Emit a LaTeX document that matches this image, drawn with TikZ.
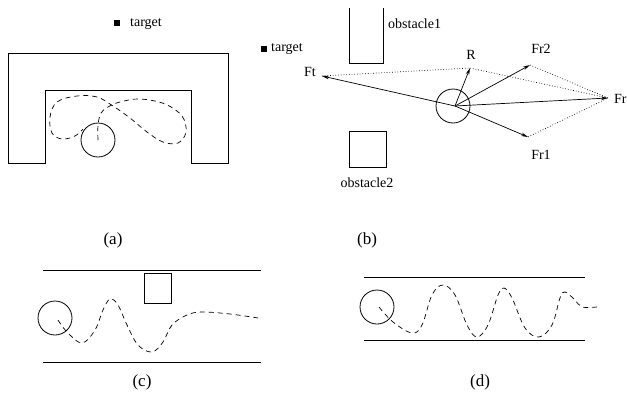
\documentclass[tikz,border=0pt]{standalone}
\usepackage{fontspec}
\setmainfont{Liberation Serif}
\usetikzlibrary{arrows.meta}
\tikzset{
  wall/.style={draw=black, line width=0.8pt},
  trail/.style={draw=black, line width=0.7pt, dash pattern=on 5pt off 4pt},
  robot/.style={draw=black, line width=0.8pt, circle, minimum size=34pt, inner sep=0pt},
  goal/.style={fill=black, minimum size=6.5pt, inner sep=0pt},
  small/.style={font=\fontsize{14}{16}\selectfont, inner sep=1pt},
  caption/.style={font=\fontsize{17}{19}\selectfont},
  force/.style={draw=black, line width=0.7pt, -{Stealth[length=7pt,width=3.5pt]}},
  sum/.style={draw=black, line width=0.7pt, dotted}
}
\begin{document}
\begin{tikzpicture}[x=1pt,y=-1pt]
\useasboundingbox (0,0) rectangle (627,410);
% ---------- (a)
\node[goal] (ga) at (117,23) {};
\node[small, anchor=west] (gta) at (129,24) {target};
\draw[wall] (45,163) -- (8,163) -- (8,53) -- (228,53) -- (228,163) -- (191,163) -- (191,90) -- (45,90) -- cycle;
\node[robot] (ra) at (98,140) {};
\draw[trail] plot[smooth, tension=0.6] coordinates {(98,140) (98,125) (101,113) (108,107) (120,102) (140,99) (165,104) (182,116) (186,132) (178,143) (163,142) (147,132) (130,118) (113,106) (97,97) (77,96) (57,102) (50,117) (52,133) (62,139) (75,136) (83,129)};
\node[caption] (ca) at (113,240) {(a)};
% ---------- (b)
\draw[wall] (349,8) -- (349,63) -- (383,63) -- (383,8);
\node[small, anchor=west] (o1) at (387,24) {obstacle1};
\node[goal] (gb) at (264,49) {};
\node[small, anchor=west] (gtb) at (270,49) {target};
\draw[wall] (349,131) rectangle (386,167);
\node[small] (o2) at (367,183) {obstacle2};
\node[robot] (rb) at (453,106) {};
\coordinate (O) at (455,106);
\coordinate (Ft) at (322,76);
\coordinate (R) at (470,68);
\coordinate (Fr2) at (530,65);
\coordinate (Fr1) at (528,137);
\coordinate (Fr) at (608,98);
\draw[sum] (Ft) -- (R) -- (Fr);
\draw[sum] (Fr2) -- (Fr) -- (Fr1);
\draw[force] (O) -- (Ft);
\draw[force] (O) -- (R);
\draw[force] (O) -- (Fr2);
\draw[force] (O) -- (Fr1);
\draw[force] (O) -- (Fr);
\node[small] (lFt) at (310,72) {Ft};
\node[small] (lR) at (471,55) {R};
\node[small] (lFr2) at (541,49) {Fr2};
\node[small] (lFr1) at (541,155) {Fr1};
\node[small, anchor=west] (lFr) at (613,99) {Fr};
\node[caption] (cb) at (367,240) {(b)};
% ---------- (c)
\draw[wall] (43,270) -- (261,270);
\draw[wall] (43,362) -- (261,362);
\draw[wall] (144,273) rectangle (171,303);
\node[robot] (rc) at (55,318) {};
\draw[trail] plot[smooth, tension=0.6] coordinates {(58,320) (67,332) (82,343) (95,330) (103,310) (110,299) (118,305) (127,325) (138,345) (152,352) (163,342) (172,325) (187,315) (202,312) (230,314) (258,318)};
\node[caption] (cc) at (142,382) {(c)};
% ---------- (d)
\draw[wall] (364,277) -- (585,277);
\draw[wall] (364,340) -- (585,340);
\node[robot] (rd) at (377,307) {};
\draw[trail] plot[smooth, tension=0.6] coordinates {(379,307) (393,322) (412,333) (422,325) (432,295) (443,285) (455,295) (467,325) (477,337) (488,325) (498,295) (504,288) (512,298) (525,328) (539,337) (552,325) (560,298) (565,292) (575,300) (582,307) (597,307)};
\node[caption] (cd) at (480,382) {(d)};
\end{tikzpicture}
\end{document}
